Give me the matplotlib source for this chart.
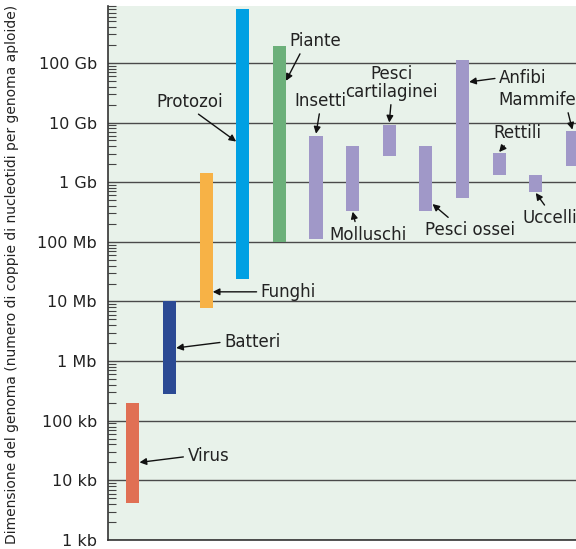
import matplotlib
matplotlib.use("Agg")
import matplotlib.pyplot as plt
import numpy as np

# genome size ranges (bp)
groups = ['Virus', 'Batteri', 'Funghi', 'Protozoi', 'Piante', 'Insetti', 'Molluschi',
          'Pesci cartilaginei', 'Pesci ossei', 'Anfibi', 'Rettili', 'Uccelli', 'Mammiferi']
low  = [4.2e3, 2.8e5, 7.8e6, 2.4e7, 1.0e8, 1.1e8, 3.3e8, 2.8e9, 3.3e8, 5.5e8, 1.3e9, 6.9e8, 1.9e9]
high = [2.0e5, 1.0e7, 1.45e9, 8.0e11, 1.9e11, 6.0e9, 4.1e9, 9.1e9, 4.1e9, 1.1e11, 3.1e9, 1.3e9, 7.1e9]
colors = ['#e07054', '#2b4a94', '#f7b246', '#00a0e3', '#6cb07a'] + ['#a098c8'] * 8

tick_vals = [1e3, 1e4, 1e5, 1e6, 1e7, 1e8, 1e9, 1e10, 1e11]
tick_labels = ['1 kb', '10 kb', '100 kb', '1 Mb', '10 Mb', '100 Mb', '1 Gb', '10 Gb', '100 Gb']

# label placement: (text, bar index, arrow tip y, tip side, text offset px, ha, va, relpos)
notes = [
    ('Virus', 0, 2.0e4, 'r', (48, 6), 'left', 'center', (0, 0.5)),
    ('Batteri', 1, 1.66e6, 'r', (48, 6), 'left', 'center', (0, 0.5)),
    ('Funghi', 2, 1.45e7, 'r', (48, 0), 'left', 'center', (0, 0.5)),
    ('Protozoi', 3, 4.8e9, 'l', (-46, 40), 'center', 'center', (0.55, 0)),
    ('Piante', 4, 5.0e10, 'r', (29, 40), 'center', 'center', (0.25, 0)),
    ('Insetti', 5, 6.5e9, 'c', (4, 33), 'center', 'center', (0.5, 0)),
    ('Molluschi', 6, 3.2e8, 'c', (15, -23), 'center', 'center', (0.35, 1)),
    ('Pesci\ncartilaginei', 7, 1.0e10, 'c', (2, 22), 'center', 'bottom', (0.5, 0)),
    ('Pesci ossei', 8, 4.3e8, 'r', (38, -26), 'center', 'center', (0.3, 1)),
    ('Anfibi', 9, 4.8e10, 'r', (30, 4), 'left', 'center', (0, 0.5)),
    ('Rettili', 10, 3.2e9, 'c', (18, 19), 'center', 'center', (0.3, 0)),
    ('Uccelli', 11, 6.6e8, 'c', (-13, -25), 'left', 'center', (0.45, 1)),
    ('Mammiferi', 12, 7.6e9, 'c', (-74, 30), 'left', 'center', (0.77, 0)),
]

fig = plt.figure(figsize=(5.76, 5.49), dpi=100)
ax = fig.add_axes([108 / 576, 9 / 549, (609 - 108) / 576, 534 / 549])
ax.set_facecolor('#e8f2ea')

x = np.arange(len(groups))
w = 0.36
heights = [h - l for l, h in zip(low, high)]
ax.bar(x, heights, bottom=low, width=w, color=colors, zorder=3)

ax.set_yscale('log')
ax.set_ylim(1e3, 9e11)
ax.set_xlim(-0.68, 13.0)
ax.set_xticks([])

ax.set_yticks(tick_vals)
ax.set_yticklabels(tick_labels, fontsize=11.5, color='#222222')
ax.tick_params(axis='y', which='major', length=0, pad=8)
ax.tick_params(axis='y', which='minor', direction='in', length=5.5, width=0.8, color='#444444')
ax.yaxis.grid(True, which='major', color='#4a4a4a', linewidth=1.0, zorder=1)
ax.set_axisbelow(True)

for s in ['top', 'right']:
    ax.spines[s].set_visible(False)
ax.spines['left'].set_color('#333333')
ax.spines['bottom'].set_color('#333333')
ax.spines['left'].set_linewidth(1.2)
ax.spines['bottom'].set_linewidth(1.2)

for txt, i, yv, side, off, ha, va, rp in notes:
    xt = x[i] + {'r': w / 2, 'l': -w / 2, 'c': 0}[side]
    ax.annotate(txt, xy=(xt, yv), xytext=off, textcoords='offset pixels',
                ha=ha, va=va, fontsize=12, color='#222222', linespacing=1.0,
                arrowprops=dict(arrowstyle='-|>', color='#111111', lw=1.0,
                                mutation_scale=10, shrinkA=1, shrinkB=0, relpos=rp),
                annotation_clip=False, zorder=5)

fig.text(12 / 576, 0.5, 'Dimensione del genoma (numero di coppie di nucleotidi per genoma aploide)',
         rotation=90, ha='center', va='center', fontsize=10, color='#222222')

fig.savefig('out.png', dpi=100)
